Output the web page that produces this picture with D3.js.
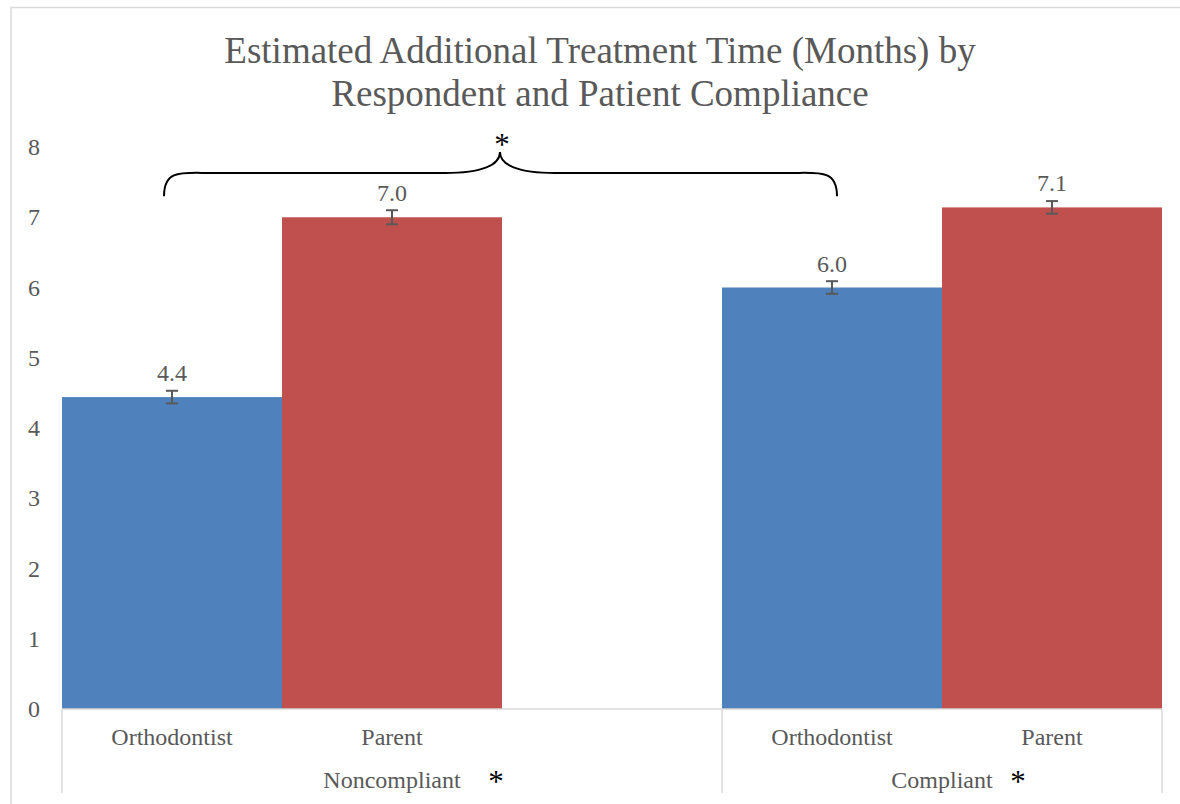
<!DOCTYPE html>
<html>
<head>
<meta charset="utf-8">
<script src="https://cdn.jsdelivr.net/npm/d3@7"></script>
<style>
  html, body { margin: 0; padding: 0; background: #fff; }
  svg { display: block; }
  text { font-family: "Liberation Serif", "Times New Roman", serif; }
</style>
</head>
<body>
<svg id="chart" width="1180" height="804"></svg>
<script>
// ---- data ----
const titleLines = ["Estimated Additional Treatment Time (Months) by", "Respondent and Patient Compliance"];
const groups = ["Noncompliant", "Compliant"];
const respondents = ["Orthodontist", "Parent"];
// slots along the category axis (an empty slot separates the two groups)
const slotGroup = ["Noncompliant", "Noncompliant", "Noncompliant", "Compliant", "Compliant"];
const slotLabel = ["Orthodontist", "Parent", "", "Orthodontist", "Parent"];
const values = [4.44, 7.0, null, 6.0, 7.14];
const errors = [0.09, 0.1, null, 0.09, 0.09];
const valueLabels = ["4.4", "7.0", "", "6.0", "7.1"];
const yTicks = [0, 1, 2, 3, 4, 5, 6, 7, 8];
const colors = { Orthodontist: "#4F81BD", Parent: "#C0504D" };

const svg = d3.select("#chart");
const textColor = "#595959";
const lineColor = "#d9d9d9";

// chart border (cropped at right/bottom in reference)
svg.append("rect").attr("x", 11).attr("y", 7.5).attr("width", 1200).attr("height", 820)
  .attr("fill", "none").attr("stroke", lineColor).attr("stroke-width", 1.5);

// title
svg.append("g").selectAll("text").data(titleLines).join("text")
  .attr("x", 600).attr("y", (d, i) => 63 + i * 43)
  .attr("text-anchor", "middle").attr("font-size", 37).attr("fill", textColor)
  .text(d => d);

const plot = { left: 62, right: 1162, top: 147, bottom: 709 };
const x = d3.scaleBand().domain(d3.range(slotLabel.length)).range([plot.left, plot.right]).paddingInner(0).paddingOuter(0);
const y = d3.scaleLinear().domain([0, 8]).range([plot.bottom, plot.top]);

// y axis labels (no axis line)
const yAxis = d3.axisLeft(y).tickValues(yTicks).tickSize(0).tickPadding(0).tickFormat(d3.format("d"));
const yg = svg.append("g").attr("transform", "translate(40,0)").call(yAxis);
yg.select(".domain").remove();
yg.selectAll("text").attr("font-size", 24).attr("fill", textColor)
  .attr("font-family", '"Liberation Serif", "Times New Roman", serif');

// bars
const idx = d3.range(values.length).filter(i => values[i] !== null);
svg.append("g").selectAll("rect").data(idx).join("rect")
  .attr("x", i => x(i)).attr("width", x.bandwidth())
  .attr("y", i => y(values[i])).attr("height", i => y(0) - y(values[i]))
  .attr("fill", i => colors[slotLabel[i]]);

// error bars
const eg = svg.append("g").attr("stroke", "#595959").attr("stroke-width", 2);
idx.forEach(i => {
  const cx = x(i) + x.bandwidth() / 2;
  const y1 = y(values[i] + errors[i]), y2 = y(values[i] - errors[i]);
  eg.append("line").attr("x1", cx).attr("x2", cx).attr("y1", y1).attr("y2", y2);
  eg.append("line").attr("x1", cx - 6).attr("x2", cx + 6).attr("y1", y1).attr("y2", y1);
  eg.append("line").attr("x1", cx - 6).attr("x2", cx + 6).attr("y1", y2).attr("y2", y2);
});

// value labels
svg.append("g").selectAll("text").data(idx).join("text")
  .attr("x", i => x(i) + x.bandwidth() / 2).attr("y", i => y(values[i]) - 16)
  .attr("text-anchor", "middle").attr("font-size", 24).attr("fill", textColor)
  .text(i => valueLabels[i]);

// category axis line
svg.append("line").attr("x1", plot.left).attr("x2", plot.right).attr("y1", plot.bottom).attr("y2", plot.bottom)
  .attr("stroke", lineColor).attr("stroke-width", 1.5);

// category labels
svg.append("g").selectAll("text").data(idx).join("text")
  .attr("x", i => x(i) + x.bandwidth() / 2).attr("y", 745)
  .attr("text-anchor", "middle").attr("font-size", 24).attr("fill", textColor)
  .text(i => slotLabel[i]);

// group spans & separators
const groupSpans = groups.map(g => {
  const s = d3.range(slotGroup.length).filter(i => slotGroup[i] === g);
  return { g, x0: x(s[0]), x1: x(s[s.length - 1]) + x.bandwidth() };
});
const seps = [plot.left, ...groupSpans.map(d => d.x1)];
svg.append("g").selectAll("line").data(seps).join("line")
  .attr("x1", d => d).attr("x2", d => d).attr("y1", plot.bottom).attr("y2", 793)
  .attr("stroke", lineColor).attr("stroke-width", 1.5);

svg.append("g").selectAll("text").data(groupSpans).join("text")
  .attr("x", d => (d.x0 + d.x1) / 2).attr("y", 788)
  .attr("text-anchor", "middle").attr("font-size", 24).attr("fill", textColor)
  .text(d => d.g);

// significance asterisks next to group labels
const starOffsets = [104, 76];
svg.append("g").selectAll("text").data(groupSpans).join("text")
  .attr("x", (d, i) => (d.x0 + d.x1) / 2 + starOffsets[i]).attr("y", 792)
  .attr("text-anchor", "middle").attr("font-size", 31).attr("fill", "#000")
  .text("*");

// brace between Noncompliant Orthodontist and Compliant Orthodontist
const bx0 = x(0) + x.bandwidth() / 2 - 8;
const bx1 = x(3) + x.bandwidth() / 2 + 5;
const bm = 500;
const yEnd = y(7.3), yMid = y(7.63), yTip = y(7.93);
const p = d3.path();
p.moveTo(bx0, yEnd);
p.bezierCurveTo(bx0, yMid - 4, bx0 + 18, yMid, bx0 + 48, yMid);
p.lineTo(bm - 55, yMid);
p.bezierCurveTo(bm - 18, yMid, bm, yMid - 8, bm, yTip);
p.bezierCurveTo(bm, yMid - 8, bm + 18, yMid, bm + 55, yMid);
p.lineTo(bx1 - 48, yMid);
p.bezierCurveTo(bx1 - 18, yMid, bx1, yMid - 4, bx1, yEnd);
svg.append("path").attr("d", p.toString()).attr("fill", "none").attr("stroke", "#000").attr("stroke-width", 2);

svg.append("text").attr("x", bm + 2).attr("y", 155)
  .attr("text-anchor", "middle").attr("font-size", 31).attr("fill", "#000").text("*");
</script>
</body>
</html>
